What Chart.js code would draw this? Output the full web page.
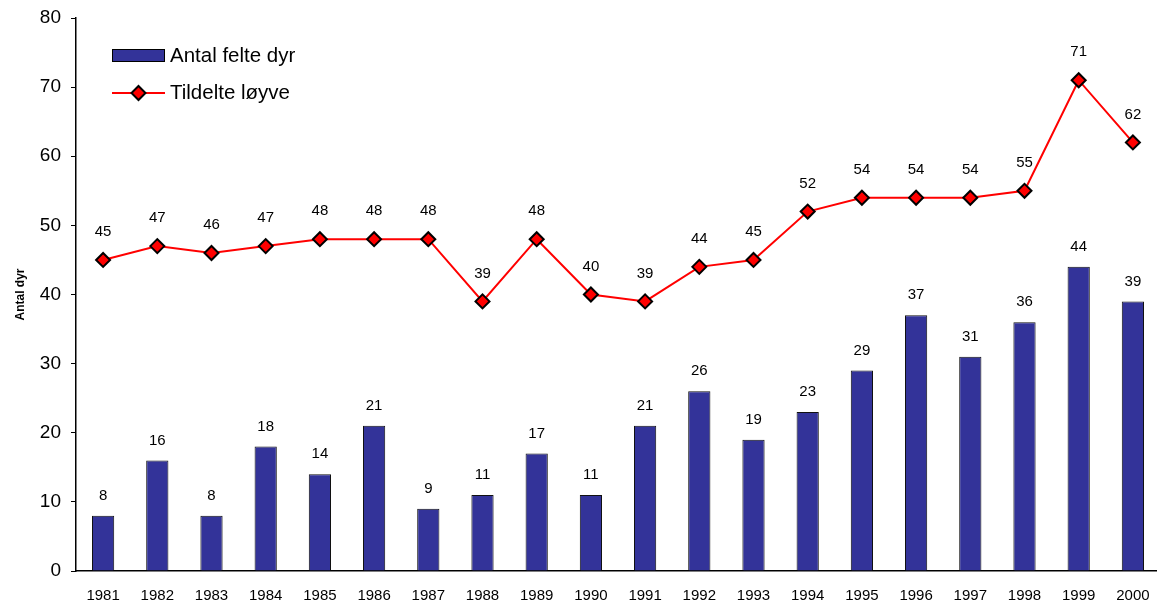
<!DOCTYPE html>
<html>
<head>
<meta charset="utf-8">
<script src="https://cdn.jsdelivr.net/npm/chart.js@4/dist/chart.umd.min.js"></script>
<style>
html,body{margin:0;padding:0;background:#fff;overflow:hidden;}
#wrap{width:1160px;height:604px;}
</style>
</head>
<body>
<div id="wrap"><canvas id="c" width="1160" height="604"></canvas></div>
<script>
const years = ["1981","1982","1983","1984","1985","1986","1987","1988","1989","1990","1991","1992","1993","1994","1995","1996","1997","1998","1999","2000"];
const felte = [8,16,8,18,14,21,9,11,17,11,21,26,19,23,29,37,31,36,44,39];
const loyve = [45,47,46,47,48,48,48,39,48,40,39,44,45,52,54,54,54,55,71,62];
const yTicks = [0,10,20,30,40,50,60,70,80];
const seriesNames = ["Antal felte dyr","Tildelte løyve"];
const yTitle = "Antal dyr";

const FONT = "'Liberation Sans', Arial, sans-serif";

const labelsPlugin = {
  id: 'valueLabels',
  afterDatasetsDraw(chart) {
    const ctx = chart.ctx;
    ctx.save();
    ctx.font = "15px " + FONT;
    ctx.fillStyle = "#000";
    ctx.textAlign = "center";
    ctx.textBaseline = "middle";
    chart.data.datasets.forEach((ds, i) => {
      const meta = chart.getDatasetMeta(i);
      meta.data.forEach((el, j) => {
        const off = ds.type === 'line' ? 28 : 20;
        ctx.fillText(String(ds.data[j]), el.x, el.y - off);
      });
    });
    ctx.restore();
  }
};

const legendPlugin = {
  id: 'customLegend',
  afterDraw(chart) {
    const ctx = chart.ctx;
    ctx.save();
    ctx.fillStyle = "#333399";
    ctx.fillRect(112, 49, 53, 13);
    ctx.strokeStyle = "#000";
    ctx.lineWidth = 1;
    ctx.strokeRect(112.5, 49.5, 52, 12);
    ctx.strokeStyle = "#ff0000";
    ctx.lineWidth = 2;
    ctx.beginPath();
    ctx.moveTo(112, 93);
    ctx.lineTo(165, 93);
    ctx.stroke();
    ctx.beginPath();
    ctx.moveTo(138.5, 86);
    ctx.lineTo(145.5, 93);
    ctx.lineTo(138.5, 100);
    ctx.lineTo(131.5, 93);
    ctx.closePath();
    ctx.fillStyle = "#ff0000";
    ctx.fill();
    ctx.strokeStyle = "#000";
    ctx.lineWidth = 2;
    ctx.stroke();
    ctx.fillStyle = "#000";
    ctx.font = "20.5px " + FONT;
    ctx.textAlign = "left";
    ctx.textBaseline = "middle";
    ctx.fillText(seriesNames[0], 170, 56);
    ctx.fillText(seriesNames[1], 170, 93);
    ctx.restore();
  }
};

new Chart(document.getElementById('c'), {
  data: {
    labels: years,
    datasets: [
      {
        type: 'line',
        label: seriesNames[1],
        data: loyve,
        order: 0,
        borderColor: '#ff0000',
        borderWidth: 2,
        tension: 0,
        pointStyle: 'rectRot',
        pointRadius: 7,
        pointBackgroundColor: '#ff0000',
        pointBorderColor: '#000',
        pointBorderWidth: 2,
        fill: false,
        clip: false
      },
      {
        type: 'bar',
        label: seriesNames[0],
        data: felte,
        order: 1,
        backgroundColor: '#333399',
        borderColor: '#111',
        borderWidth: 1,
        categoryPercentage: 1,
        barPercentage: 0.41
      }
    ]
  },
  options: {
    responsive: false,
    animation: false,
    devicePixelRatio: 1,
    layout: { autoPadding: false, padding: { top: 18, left: 0, right: 0, bottom: 0 } },
    plugins: { legend: { display: false }, tooltip: { enabled: false } },
    scales: {
      x: {
        offset: true,
        grid: { display: false, drawTicks: false },
        border: { display: true, color: '#000', width: 1.5 },
        ticks: { color: '#000', font: { family: FONT, size: 15 }, padding: 16, maxRotation: 0, autoSkip: false },
        afterFit(s) { s.height = 33; s.paddingLeft = 0; s.paddingRight = 0; }
      },
      y: {
        min: 0, max: 80,
        afterBuildTicks(s) { s.ticks = yTicks.map(v => ({ value: v })); },
        grid: { display: true, drawOnChartArea: false, drawTicks: true, tickLength: 5, color: '#000', lineWidth: 1 },
        border: { display: true, color: '#000', width: 1.5 },
        ticks: { color: '#000', font: { family: FONT, size: 19 }, padding: 10 },
        title: { display: true, text: yTitle, color: '#000', font: { family: FONT, size: 12, weight: 'bold' }, padding: { top: 13, bottom: 0 } },
        afterFit(s) { s.width = 76; s.paddingTop = 0; s.paddingBottom = 0; }
      }
    }
  },
  plugins: [labelsPlugin, legendPlugin]
});
</script>
</body>
</html>
